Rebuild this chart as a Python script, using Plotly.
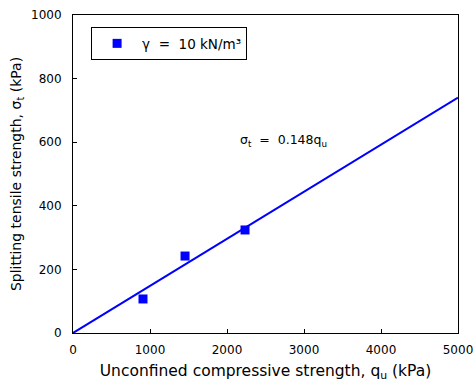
import plotly.graph_objects as go

# Measured specimens: unconfined compressive strength vs splitting tensile strength
qu_kpa = [909, 1455, 2234]
sigma_t_kpa = [107, 242, 324]

# Linear fit through origin: sigma_t = 0.148 qu
slope = 0.148
fit_x = [0, 5000]
fit_y = [slope * v for v in fit_x]

x_ticks = [0, 1000, 2000, 3000, 4000, 5000]
y_ticks = [0, 200, 400, 600, 800, 1000]

font_family = "DejaVu Sans, Arial, sans-serif"

fig = go.Figure()
fig.add_trace(go.Scatter(
    x=fit_x, y=fit_y, mode="lines",
    line=dict(color="#0000ff", width=2),
    showlegend=False, hoverinfo="skip",
))
fig.add_trace(go.Scatter(
    x=qu_kpa, y=sigma_t_kpa, mode="markers",
    marker=dict(symbol="square", size=9, color="#0000ff"),
    name="γ\u00a0 =\u00a0 10 kN/m³",
))

fig.add_annotation(
    x=2740, y=605, xref="x", yref="y",
    text="σ<sub>t</sub>  =  0.148q<sub>u</sub>",
    showarrow=False, font=dict(family=font_family, size=12.5, color="black"),
)

fig.update_layout(
    width=476, height=383,
    margin=dict(l=73, r=18, t=15, b=50, autoexpand=False),
    paper_bgcolor="white", plot_bgcolor="white",
    font=dict(family=font_family, size=12, color="black"),
    showlegend=True,
    legend=dict(
        x=0.047, y=0.962, xanchor="left", yanchor="top",
        bordercolor="black", borderwidth=1, bgcolor="white",
        font=dict(size=13.5), itemwidth=40,
    ),
    xaxis=dict(
        range=[0, 5000], tickvals=x_ticks, ticks="inside", ticklen=4,
        tickcolor="black", automargin=False, ticklabelstandoff=6,
        showline=True, linecolor="black", linewidth=1, mirror=True,
        showgrid=False, zeroline=False,
        title=dict(text="Unconfined compressive strength, q<sub>u</sub> (kPa)",
                   font=dict(size=15.5), standoff=8),
    ),
    yaxis=dict(
        range=[0, 1000], tickvals=y_ticks, ticks="inside", ticklen=4,
        tickcolor="black", automargin=False, ticklabelstandoff=8,
        showline=True, linecolor="black", linewidth=1, mirror=True,
        showgrid=False, zeroline=False,
        title=dict(text="Splitting tensile strength, σ<sub>t</sub> (kPa)",
                   font=dict(size=14), standoff=6),
    ),
)

fig.write_html("out.html")
